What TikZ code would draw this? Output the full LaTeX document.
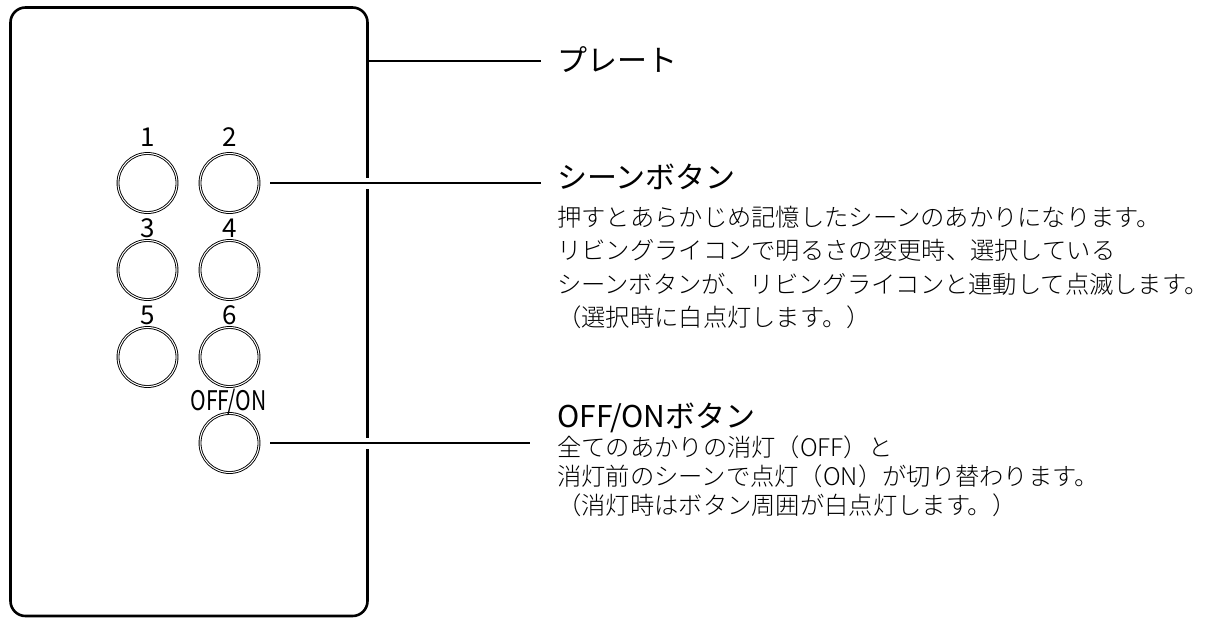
\documentclass[tikz,border=0pt]{standalone}
\usepackage{fontspec}
\setmainfont{Noto Sans CJK JP}
\newfontfamily\thinjp{Noto Sans CJK JP Light}
\usetikzlibrary{positioning}

\begin{document}
\begin{tikzpicture}
  [x=1pt,y=-1pt,every node/.style={inner sep=0pt},
   plate/.style={line width=2.6pt,rounded corners=15pt},
   btn/.style={circle,draw,line width=0.9pt,double,double distance=1pt,minimum size=59pt},
   num/.style={font=\fontsize{26}{26}\selectfont},
   lead/.style={line width=1.3pt},
   bridge/.style={lead,preaction={draw,white,line width=11pt}},
   head/.style={anchor=base west,font=\fontsize{30}{30}\selectfont},
   body/.style={anchor=base west,font=\thinjp\fontsize{24.3}{24.3}\selectfont}]
  \useasboundingbox (0,0) rectangle (1214,618);
  \draw[plate] (10.5,7.5) rectangle (367.5,616);

  \node[btn] (1) at (147.5,183) {};
  \node[btn] (2) at (229.5,183) {};
  \node[btn] (3) at (147.5,270) {};
  \node[btn] (4) at (229.5,270) {};
  \node[btn] (5) at (147.5,357) {};
  \node[btn] (6) at (229.5,357) {};
  \node[btn] (7) at (229.5,443) {};

  \node[num] (n1) at (147.5,137) {1};
  \node[num] (n2) at (229.5,137) {2};
  \node[num] (n3) at (147.5,228) {3};
  \node[num] (n4) at (229.5,228) {4};
  \node[num] (n5) at (147.5,315) {5};
  \node[num] (n6) at (229.5,315) {6};
  \node[num,font=\fontsize{27}{27}\selectfont] (n7) at (228.5,402.5) {\scalebox{0.78}[1]{OFF/ON}};

  \node[head] (t1) at (557,71) {プレート};
  \node[head] (t2) at (557,188) {シーンボタン};
  \node[body] (s1) at (557,226) {押すとあらかじめ記憶したシーンのあかりになります。};
  \node[body] (s2) at (557,259.5) {リビングライコンで明るさの変更時、選択している};
  \node[body] (s3) at (557,293) {シーンボタンが、リビングライコンと連動して点滅します。};
  \node[body] (s4) at (557,326.5) {（選択時に白点灯します。）};
  \node[head] (t3) at (557,427) {OFF/ONボタン};
  \node[body] (o1) at (557,456) {全てのあかりの消灯（OFF）と};
  \node[body] (o2) at (557,485) {消灯前のシーンで点灯（ON）が切り替わります。};
  \node[body] (o3) at (557,514) {（消灯時はボタン周囲が白点灯します。）};

  \coordinate (a0) at (367.5,61);
  \coordinate (a1) at (541,61);
  \coordinate[right=11pt of 2] (b0);
  \coordinate (b1) at (541,183);
  \coordinate[right=11pt of 7] (c0);
  \coordinate (c1) at (530,443);

  \draw[lead] (a0) -- (a1);
  \foreach \from/\to in {b0/b1,c0/c1}
    \draw[bridge] (\from) -- (\to);

\end{tikzpicture}
\end{document}
